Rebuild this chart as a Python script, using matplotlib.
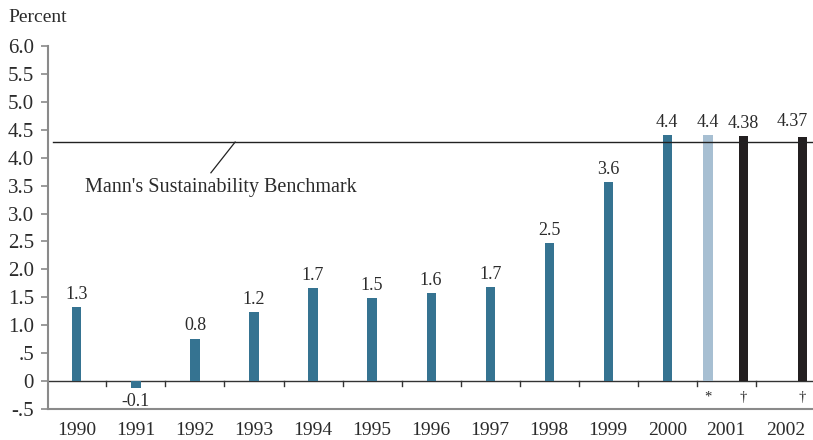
import matplotlib
matplotlib.use("Agg")
import matplotlib.pyplot as plt
import numpy as np

years = ["1990", "1991", "1992", "1993", "1994", "1995", "1996",
         "1997", "1998", "1999", "2000", "2001", "2002"]
bar_pos = [0, 1, 2, 3, 4, 5, 6, 7, 8, 9, 10, 10.69, 11.29, 12.29]
bar_vals = [1.33, -0.12, 0.76, 1.24, 1.67, 1.49, 1.58, 1.68, 2.47, 3.57,
            4.41, 4.41, 4.38, 4.37]
bar_labels = ["1.3", "-0.1", "0.8", "1.2", "1.7", "1.5", "1.6", "1.7", "2.5",
              "3.6", "4.4", "4.4", "4.38", "4.37"]
bar_kind = ["a"] * 11 + ["b", "c", "c"]
footnotes = {11: "*", 12: "\u2020", 13: "\u2020"}
benchmark = 4.28
benchmark_label = "Mann's Sustainability Benchmark"
yticks = [-0.5, 0, 0.5, 1.0, 1.5, 2.0, 2.5, 3.0, 3.5, 4.0, 4.5, 5.0, 5.5, 6.0]
ytick_labels = ["-.5", "0", ".5", "1.0", "1.5", "2.0", "2.5", "3.0", "3.5",
                "4.0", "4.5", "5.0", "5.5", "6.0"]

colors = {"a": "#357391", "b": "#a7bfd2", "c": "#231f20"}
text_c = "#2b2b2b"
axis_c = "#8a8a8a"
plt.rcParams["font.family"] = ["Liberation Serif", "DejaVu Serif"]

W, H = 813, 440
fig = plt.figure(figsize=(W / 100, H / 100), dpi=100)
left, right, top, bottom = 48, 813, 46, 409
ax = fig.add_axes([left / W, 1 - bottom / H, (right - left) / W, (bottom - top) / H])
ax.set_xlim(-0.49, 12.47)
ax.set_ylim(-0.5, 6.0)

ax.bar(bar_pos, bar_vals, width=0.155, color=[colors[k] for k in bar_kind], zorder=3)

for i, (x, v, lab) in enumerate(zip(bar_pos, bar_vals, bar_labels)):
    dx = -7 if i == len(bar_pos) - 1 else 0
    dy = 5 if i == len(bar_pos) - 1 else 3
    if v >= 0:
        ax.annotate(lab, (x, v), xytext=(dx, dy), textcoords="offset points",
                    ha="center", va="bottom", fontsize=13, color=text_c)
    else:
        ax.annotate(lab, (x, v), xytext=(0, -4), textcoords="offset points",
                    ha="center", va="top", fontsize=13, color=text_c)
    if i in footnotes:
        ax.annotate(footnotes[i], (x, 0), xytext=(0, -7), textcoords="offset points",
                    ha="center", va="top", fontsize=10.5, color=text_c)

# zero line with category ticks
ax.axhline(0, color="#333333", lw=1.0, zorder=2)
for b in np.arange(0.5, 12.5, 1.0):
    ax.plot([b, b], [0, -0.09], color="#333333", lw=1.0, zorder=2, clip_on=False)

# benchmark line
ax.plot([-0.40, 12.47], [benchmark, benchmark], color="#222222", lw=1.0, zorder=4)
ax.plot([2.68, 2.27], [benchmark, 3.73], color="#222222", lw=0.9, zorder=4)
ax.text(0.14, 3.47, benchmark_label, fontsize=14.5, color=text_c, ha="left", va="center")

for s in ["top", "right"]:
    ax.spines[s].set_visible(False)
for s in ["left", "bottom"]:
    ax.spines[s].set_color(axis_c)
    ax.spines[s].set_linewidth(1.5)

ax.set_yticks(yticks)
ax.set_yticklabels(ytick_labels, fontsize=15, color=text_c)
ax.tick_params(axis="y", length=5, color=axis_c, width=1.2, pad=5)
ax.set_xticks(range(len(years)))
ax.set_xticklabels(years, fontsize=14, color=text_c)
ax.tick_params(axis="x", length=0, pad=9)

fig.text(8 / W, 1 - 17 / H, "Percent", fontsize=14, color=text_c, ha="left", va="center")

fig.savefig("out.png", dpi=100)
